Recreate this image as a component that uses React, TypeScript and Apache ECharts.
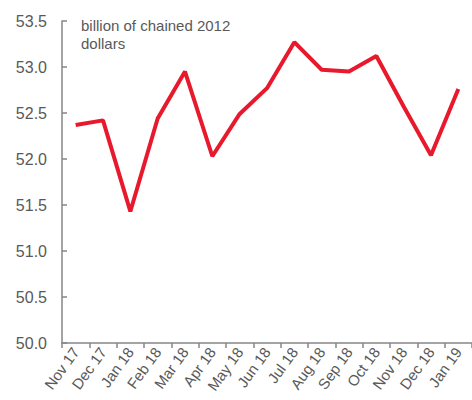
import React, { useEffect, useRef } from "react";
import * as echarts from "echarts";

const categories = [
  "Nov 17", "Dec 17", "Jan 18", "Feb 18", "Mar 18", "Apr 18", "May 18",
  "Jun 18", "Jul 18", "Aug 18", "Sep 18", "Oct 18", "Nov 18", "Dec 18", "Jan 19",
];
const values = [
  52.37, 52.42, 51.43, 52.44, 52.95, 52.03, 52.49,
  52.77, 53.27, 52.97, 52.95, 53.12, 52.57, 52.04, 52.76,
];
const unitLabel = "billion of chained 2012\ndollars";

export default function App() {
  const ref = useRef<HTMLDivElement>(null);
  useEffect(() => {
    document.body.style.margin = "0";
    const chart = echarts.init(ref.current!, null, { renderer: "svg" });
    const grey = "#595959";
    const axisGrey = "#868686";
    chart.setOption({
      animation: false,
      grid: { left: 62, top: 21, width: 420, height: 322, containLabel: false },
      xAxis: {
        type: "category",
        data: categories,
        boundaryGap: true,
        axisLine: { lineStyle: { color: axisGrey, width: 1.5 } },
        axisTick: { show: true, length: 5, inside: false, lineStyle: { color: axisGrey, width: 1.5 } },
        axisLabel: {
          rotate: 54,
          interval: 0,
          color: grey,
          fontFamily: "Liberation Sans, Arial, sans-serif",
          fontSize: 15,
          margin: 6,
        },
      },
      yAxis: {
        type: "value",
        min: 50,
        max: 53.5,
        interval: 0.5,
        splitLine: { show: false },
        axisLine: { show: true, lineStyle: { color: axisGrey, width: 1.5 } },
        axisTick: { show: true, inside: true, length: 5, lineStyle: { color: axisGrey, width: 1.5 } },
        axisLabel: {
          color: grey,
          fontFamily: "Liberation Sans, Arial, sans-serif",
          fontSize: 16,
          margin: 15,
          formatter: (v: number) => v.toFixed(1),
        },
      },
      graphic: [
        {
          type: "text",
          left: 81,
          top: 16,
          style: {
            text: unitLabel,
            fill: grey,
            font: "15px 'Liberation Sans', Arial, sans-serif",
            lineHeight: 18,
          },
        },
      ],
      series: [
        {
          type: "line",
          data: values,
          symbol: "none",
          lineStyle: { color: "#E8192C", width: 4 },
        },
      ],
    });
    return () => chart.dispose();
  }, []);
  return <div ref={ref} style={{ width: 472, height: 400 }} />;
}
